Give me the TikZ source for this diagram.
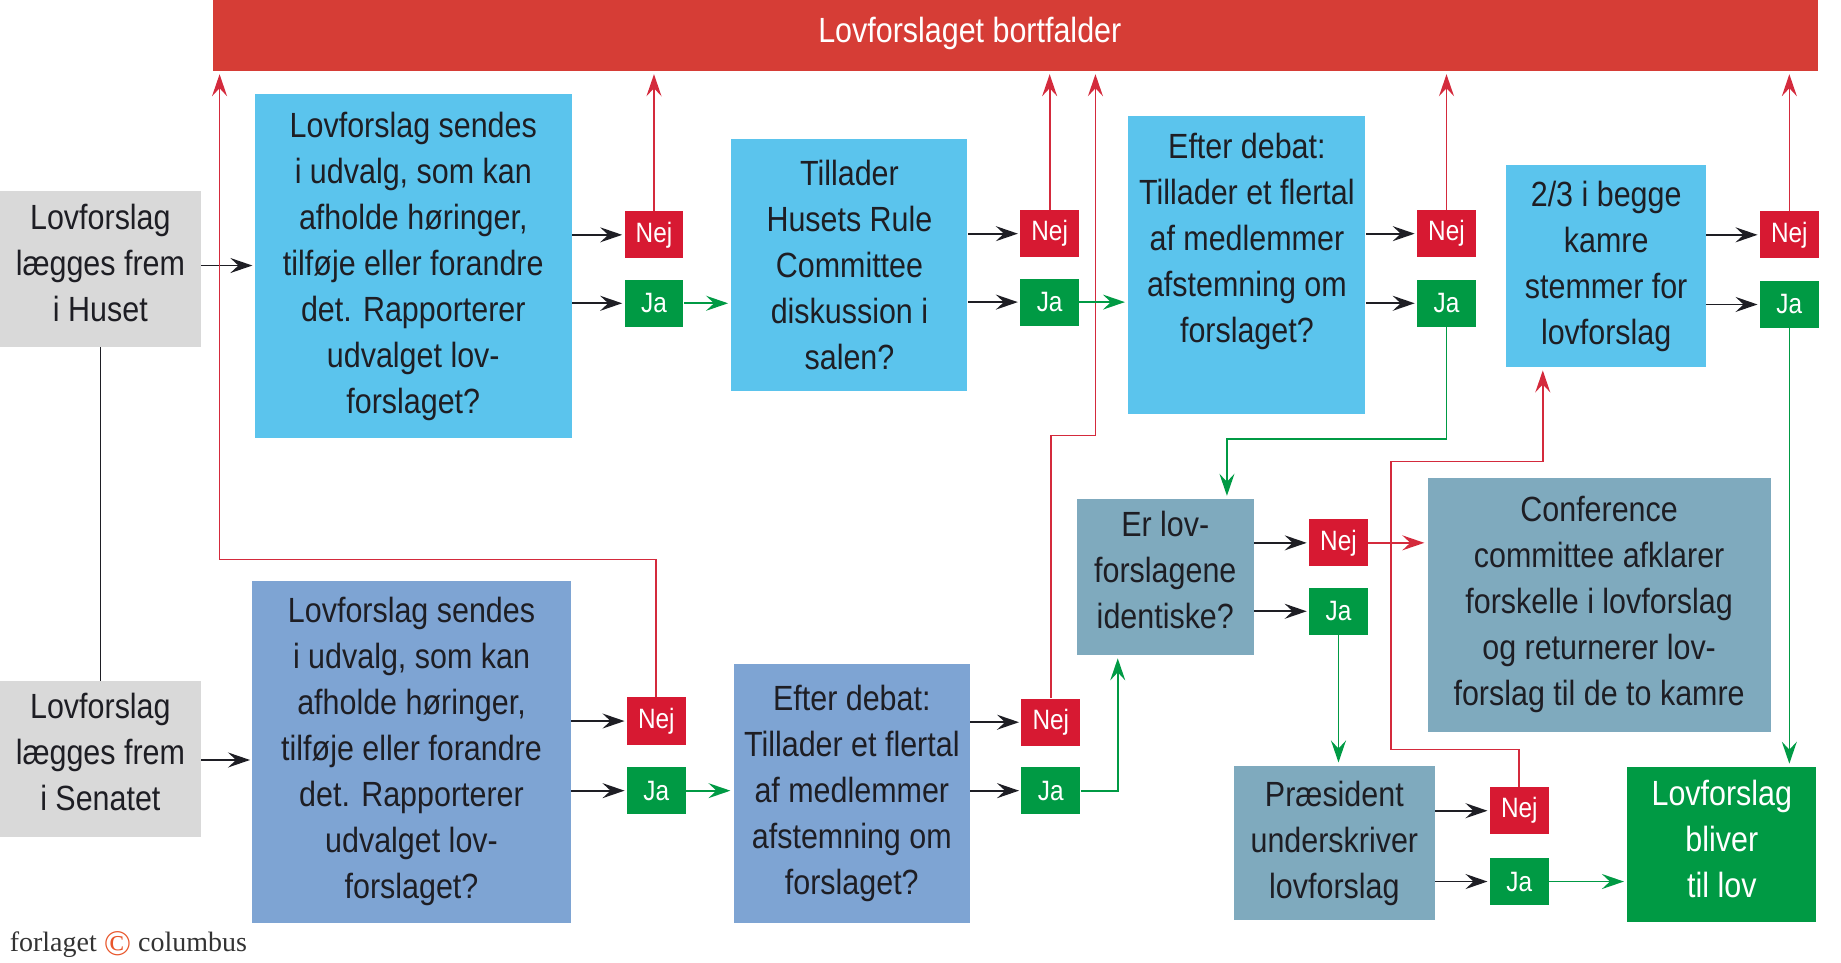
\documentclass[tikz,border=0pt]{standalone}
\usepackage{fontspec}
\setmainfont{Liberation Sans}[FakeStretch=0.87]
\newfontfamily\footfont{Liberation Serif}
\usetikzlibrary{arrows.meta}
\definecolor{barred}{HTML}{D63D36}
\definecolor{nejred}{HTML}{D71932}
\definecolor{linered}{HTML}{D42A3C}
\definecolor{jagreen}{HTML}{009A44}
\definecolor{lblue}{HTML}{5BC4ED}
\definecolor{sblue}{HTML}{7EA4D3}
\definecolor{gblue}{HTML}{7FAABE}
\definecolor{lgray}{HTML}{D9D9D9}
\definecolor{txt}{HTML}{1E1E24}
\definecolor{copyor}{HTML}{E8552A}
\tikzset{
 box/.style={rectangle, inner sep=0pt, align=center, text=txt, font=\fontsize{17.5}{23}\selectfont},
 boxtext/.style={inner sep=0pt, align=center, text=txt, font=\fontsize{17.5}{23}\selectfont},
 yn/.style={rectangle, inner sep=0pt, minimum width=29.4pt, minimum height=23.6pt, text=white, font=\fontsize{14}{16}\selectfont},
 nejbox/.style={yn, fill=nejred},
 jabox/.style={yn, fill=jagreen},
 tip/.style={-{Stealth[length=11pt,width=7.5pt,inset=4pt]}},
 blk/.style={draw=txt, line width=0.95pt, tip, shorten >=1pt},
 redl/.style={draw=linered, line width=0.85pt, tip, shorten >=1.5pt},
 grnl/.style={draw=jagreen, line width=0.85pt, tip, shorten >=1.5pt},
}
\newcommand\bx[7]{\node[#6, minimum width={(#4-#2)*0.587pt}, minimum height={(#5-#3)*0.59pt}] (#1) at ({(#2+#4)/2},{(#3+#5)/2}) {#7};}
\newcommand\ynb[5]{\node[#2] (#1) at ({#3+25},{#4+20}) {#5};}
\begin{document}
\begin{tikzpicture}[x=0.587pt,y=-0.59pt]
\useasboundingbox (0,0) rectangle (1568,815.2);
% bar
\bx{bar}{181}{0}{1548}{60}{box, fill=barred}{}
\node[boxtext, text=white] (bart) at (826,28) {Lovforslaget bortfalder};
% left
\bx{g1}{0}{162}{171}{294}{box, fill=lgray}{}
\node[boxtext] (g1t) at (85.5,223) {Lovforslag\\lægges frem\\i Huset};
\bx{g2}{0}{577}{171}{709}{box, fill=lgray}{}
\node[boxtext] (g2t) at (85.5,637) {Lovforslag\\lægges frem\\i Senatet};
% house row
\bx{A}{217}{80}{487}{371}{box, fill=lblue}{Lovforslag sendes\\i udvalg, som kan\\afholde høringer,\\tilføje eller forandre\\det. Rapporterer\\udvalget lov-\\forslaget?}
\bx{B}{623}{118}{824}{331}{box, fill=lblue}{Tillader\\Husets Rule\\Committee\\diskussion i\\salen?}
\bx{C}{961}{98}{1163}{351}{box, fill=lblue}{}
\node[boxtext] (Ct) at (1062,205) {Efter debat:\\Tillader et flertal\\af medlemmer\\afstemning om\\forslaget?};
\bx{D}{1283}{140}{1453}{311}{box, fill=lblue}{2/3 i begge\\kamre\\stemmer for\\lovforslag}
% middle
\bx{E}{917}{423}{1068}{555}{box, fill=gblue}{}
\node[boxtext] (Et) at (992.5,483) {Er lov-\\forslagene\\identiske?};
\bx{F}{1216}{405}{1508}{620}{box, fill=gblue}{Conference\\committee afklarer\\forskelle i lovforslag\\og returnerer lov-\\forslag til de to kamre}
\bx{G}{1051}{649}{1222}{780}{box, fill=gblue}{Præsident\\underskriver\\lovforslag}
\bx{H}{1386}{650}{1547}{781}{box, fill=jagreen}{}
\node[boxtext, text=white] (Ht) at (1466.5,711) {Lovforslag\\bliver\\til lov};
% senate row
\bx{I}{215}{492}{486}{782}{box, fill=sblue}{Lovforslag sendes\\i udvalg, som kan\\afholde høringer,\\tilføje eller forandre\\det. Rapporterer\\udvalget lov-\\forslaget?}
\bx{J}{625}{563}{826}{782}{box, fill=sblue}{Efter debat:\\Tillader et flertal\\af medlemmer\\afstemning om\\forslaget?}
% yes/no
\ynb{n1}{nejbox}{532}{179}{Nej}
\ynb{j1}{jabox}{532}{237}{Ja}
\ynb{n2}{nejbox}{869}{178}{Nej}
\ynb{j2}{jabox}{869}{236}{Ja}
\ynb{n3}{nejbox}{1207}{178}{Nej}
\ynb{j3}{jabox}{1207}{237}{Ja}
\ynb{n4}{nejbox}{1499}{179}{Nej}
\ynb{j4}{jabox}{1499}{238}{Ja}
\ynb{n5}{nejbox}{1115}{440}{Nej}
\ynb{j5}{jabox}{1115}{498}{Ja}
\ynb{n6}{nejbox}{1269}{667}{Nej}
\ynb{j6}{jabox}{1269}{727}{Ja}
\ynb{n7}{nejbox}{534}{591}{Nej}
\ynb{j7}{jabox}{534}{650}{Ja}
\ynb{n8}{nejbox}{870}{592}{Nej}
\ynb{j8}{jabox}{870}{650}{Ja}
% coordinates for bends
\coordinate (r7) at (187,474);
\coordinate (r8) at (933,369);
\coordinate (g8) at (952,0);
\coordinate (g3) at (1045,372);
\coordinate (r6a) at (1185,635);
\coordinate (r6b) at (1314,391);
\coordinate (ga) at (0,225);
\coordinate (gb) at (0,644);
% black connectors
\draw[txt, line width=0.8pt] (g1.south) -- (g2.north);
\draw[blk] (g1.east |- ga) -- (A.west |- ga);
\draw[blk] (g2.east |- gb) -- (I.west |- gb);
\draw[blk] (A.east |- n1) -- (n1.west);
\draw[blk] (A.east |- j1) -- (j1.west);
\draw[blk] (B.east |- n2) -- (n2.west);
\draw[blk] (B.east |- j2) -- (j2.west);
\draw[blk] (C.east |- n3) -- (n3.west);
\draw[blk] (C.east |- j3) -- (j3.west);
\draw[blk] (D.east |- n4) -- (n4.west);
\draw[blk] (D.east |- j4) -- (j4.west);
\draw[blk] (E.east |- n5) -- (n5.west);
\draw[blk] (E.east |- j5) -- (j5.west);
\draw[blk] (G.east |- n6) -- (n6.west);
\draw[blk] (G.east |- j6) -- (j6.west);
\draw[blk] (I.east |- n7) -- (n7.west);
\draw[blk] (I.east |- j7) -- (j7.west);
\draw[blk] (J.east |- n8) -- (n8.west);
\draw[blk] (J.east |- j8) -- (j8.west);
% red connectors
\draw[redl] (n1.north) -- (n1.north |- bar.south);
\draw[redl] (n2.north) -- (n2.north |- bar.south);
\draw[redl] (n3.north) -- (n3.north |- bar.south);
\draw[redl] (n4.north) -- (n4.north |- bar.south);
\draw[redl] (n7.north) |- (r7) -- (r7 |- bar.south);
\draw[redl] (n8.north) |- (r8) -- (r8 |- bar.south);
\draw[redl] (n5.east) -- (F.west |- n5.east);
\draw[redl] (n6.north) |- (r6a) |- (r6b) -- (r6b |- D.south);
% green connectors
\draw[grnl] (j1.east) -- (B.west |- j1.east);
\draw[grnl] (j2.east) -- (C.west |- j2.east);
\draw[grnl] (j7.east) -- (J.west |- j7.east);
\draw[grnl] (j3.south) |- (g3) -- (g3 |- E.north);
\draw[grnl] (j8.east) -| (g8 |- E.south);
\draw[grnl] (j5.south) -- (j5.south |- G.north);
\draw[grnl] (j4.south) -- (j4.south |- H.north);
\draw[grnl] (j6.east) -- (H.west |- j6.east);
% footer
\node[anchor=base west, inner sep=0pt, text=black!80, font=\footfont\fontsize{14}{17}\selectfont] (foot) at (8,806) {forlaget {\color{copyor}\raisebox{-2pt}{\fontsize{18}{18}\selectfont ©}} columbus};
\end{tikzpicture}
\end{document}
